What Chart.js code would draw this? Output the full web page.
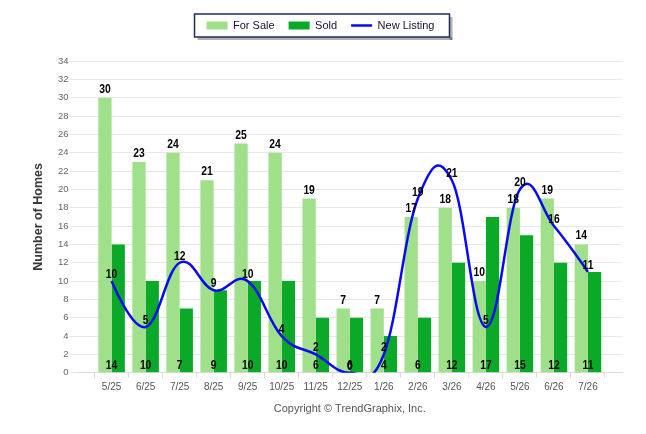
<!DOCTYPE html>
<html>
<head>
<meta charset="utf-8">
<script src="https://cdn.jsdelivr.net/npm/chart.js@4.4.1/dist/chart.umd.min.js"></script>
<style>
  html, body { margin: 0; padding: 0; background: #fff; }
  #wrap { width: 646px; height: 434px; }
</style>
</head>
<body>
<div id="wrap"><canvas id="homes-chart"></canvas></div>
<script>
// data
const months     = ['5/25', '6/25', '7/25', '8/25', '9/25', '10/25', '11/25', '12/25', '1/26', '2/26', '3/26', '4/26', '5/26', '6/26', '7/26']
const forSale    = [30, 23, 24, 21, 25, 24, 19, 7, 7, 17, 18, 10, 18, 19, 14]
const sold       = [14, 10, 7, 9, 10, 10, 6, 6, 4, 6, 12, 17, 15, 12, 11]
const newListing = [10, 5, 12, 9, 10, 4, 2, 0, 2, 19, 21, 5, 20, 16, 11]
const yMin = 0, yMax = 34, yStep = 2

const SANS = "'Liberation Sans', Arial, sans-serif"
const C_FORSALE = '#a0e08a'
const C_SOLD = '#0aaa28'
const C_LINE = '#0a0af0'
const LEGEND_SHIFT = -6

// one empty slot on each side of the months, like the reference axis
const xLabels = ['', ...months, '']
const pad = arr => [null, ...arr, null]

// smooth line in the same style as the reference (control points 0.4 of the way to neighbours)
const splinePlugin = {
  id: 'hcSpline',
  beforeDatasetDraw(chart, args) {
    const meta = args.meta
    if (meta.type !== 'line') return
    meta.dataset.updateControlPoints(chart.chartArea, 'x')
    const pts = meta.data.filter(p => !p.skip)
    const s = 1.5, d = s + 1
    pts.forEach((p, i) => {
      const prev = pts[i - 1], next = pts[i + 1]
      if (!prev || !next) {
        p.cp1x = p.cp2x = p.x
        p.cp1y = p.cp2y = p.y
        return
      }
      const lx = (s * p.x + prev.x) / d, rx = (s * p.x + next.x) / d
      let ly = (s * p.y + prev.y) / d, ry = (s * p.y + next.y) / d
      const corr = ((ry - ly) * (rx - p.x)) / (rx - lx) + p.y - ry
      ly += corr; ry += corr
      p.cp1x = lx; p.cp1y = ly; p.cp2x = rx; p.cp2y = ry
    })
    meta.dataset._path = undefined
  },
}

// condensed bold numbers (no narrow face installed, so squeeze a little)
function drawNum(ctx, text, x, y) {
  ctx.save()
  ctx.translate(x, y)
  ctx.scale(0.86, 1)
  ctx.fillText(text, 0, 0)
  ctx.restore()
}

const valueLabels = {
  id: 'valueLabels',
  afterDatasetsDraw(chart) {
    const { ctx } = chart
    const x = chart.scales.x, y = chart.scales.y
    ctx.save()
    ctx.fillStyle = '#000'
    ctx.textAlign = 'center'
    ctx.textBaseline = 'alphabetic'
    ctx.font = `bold 12px ${SANS}`
    // For Sale: above the bar
    chart.getDatasetMeta(0).data.forEach((bar, i) => {
      const v = chart.data.datasets[0].data[i]
      if (v == null) return
      drawNum(ctx, v, bar.x, bar.y - 5)
    })
    // Sold: at the foot of the category
    chart.data.datasets[1].data.forEach((v, i) => {
      if (v == null) return
      drawNum(ctx, v, x.getPixelForValue(i), y.getPixelForValue(0) - 4)
    })
    // New Listing: above the point
    chart.getDatasetMeta(2).data.forEach((pt, i) => {
      const v = chart.data.datasets[2].data[i]
      if (v == null) return
      drawNum(ctx, v, pt.x, pt.y - 3)
    })
    ctx.restore()
  },
}

const legendFrame = {
  id: 'legendFrame',
  beforeInit(chart) {
    const lg = chart.legend
    const fit = lg.fit
    lg.fit = function () {
      fit.call(this)
      this.height += 20
    }
    // the reference legend sits a few px left of centre
    const draw = lg.draw
    lg.draw = function () {
      const ctx = this.ctx
      ctx.save()
      ctx.translate(LEGEND_SHIFT, 0)
      draw.call(this)
      ctx.restore()
    }
  },
  afterDraw(chart) {
    const boxes = chart.legend && chart.legend.legendHitBoxes
    if (!boxes || !boxes.length) return
    const left = Math.min(...boxes.map(b => b.left)) - 12 + LEGEND_SHIFT
    const right = Math.max(...boxes.map(b => b.left + b.width)) + 15 + LEGEND_SHIFT
    const top = Math.min(...boxes.map(b => b.top)) - 6
    const bottom = Math.max(...boxes.map(b => b.top + b.height)) + 6
    const { ctx } = chart
    ctx.save()
    ctx.fillStyle = 'rgba(0,0,0,0.3)'
    ctx.fillRect(left + 3, bottom, right - left, 3)
    ctx.fillRect(right, top + 3, 3, bottom - top)
    ctx.strokeStyle = '#1c2d5e'
    ctx.lineWidth = 1.5
    ctx.strokeRect(left, top, right - left, bottom - top)
    ctx.restore()
  },
}

new Chart(document.getElementById('homes-chart'), {
  data: {
    labels: xLabels,
    datasets: [
      { type: 'bar', label: 'For Sale', data: pad(forSale), backgroundColor: C_FORSALE, order: 1 },
      { type: 'bar', label: 'Sold', data: pad(sold), backgroundColor: C_SOLD, order: 1 },
      { type: 'line', label: 'New Listing', data: pad(newListing), borderColor: C_LINE, borderWidth: 2.5,
        backgroundColor: C_LINE, pointRadius: 0, tension: 0.4, fill: false, order: 0 },
    ],
  },
  options: {
    responsive: true,
    maintainAspectRatio: false,
    animation: false,
    datasets: { bar: { categoryPercentage: 0.78, barPercentage: 1.0 } },
    layout: { padding: { top: 6, right: 24, bottom: 10, left: 31 } },
    scales: {
      x: {
        offset: false,
        grid: { drawOnChartArea: false, color: '#dcdcdc', tickLength: 5 },
        border: { color: '#dcdcdc' },
        ticks: { color: '#555', font: { family: SANS, size: 10 }, autoSkip: false, maxRotation: 0, padding: 3 },
      },
      y: {
        min: yMin, max: yMax,
        grid: { color: '#e8e8e8', tickLength: 8 },
        border: { display: false },
        ticks: { stepSize: yStep, color: '#666', font: { family: SANS, size: 9.5 }, padding: 1 },
        title: { display: true, text: 'Number of Homes', color: '#3a3a3a',
          font: { family: SANS, size: 12.5, weight: 'bold' }, padding: { top: 0, bottom: 11 } },
      },
    },
    plugins: {
      legend: {
        position: 'top',
        labels: {
          usePointStyle: true, pointStyleWidth: 21, boxHeight: 8, padding: 14,
          color: '#1a1030', font: { family: SANS, size: 11 },
          sort: (a, b) => a.datasetIndex - b.datasetIndex,
          generateLabels(chart) {
            const items = Chart.defaults.plugins.legend.labels.generateLabels(chart)
            items.forEach(it => {
              const ds = chart.data.datasets[it.datasetIndex]
              if (ds.type === 'line') {
                it.pointStyle = 'line'; it.strokeStyle = C_LINE; it.lineWidth = 2.5
              } else {
                it.pointStyle = 'rect'; it.lineWidth = 0; it.fillStyle = ds.backgroundColor
              }
            })
            return items
          },
        },
      },
      title: {
        display: true, position: 'bottom', fullSize: false,
        text: 'Copyright © TrendGraphix, Inc.', color: '#555',
        font: { family: SANS, size: 11, weight: 'normal' }, padding: { top: 7, bottom: 8 },
      },
      tooltip: { enabled: false },
    },
  },
  plugins: [splinePlugin, valueLabels, legendFrame],
})
</script>
</body>
</html>
